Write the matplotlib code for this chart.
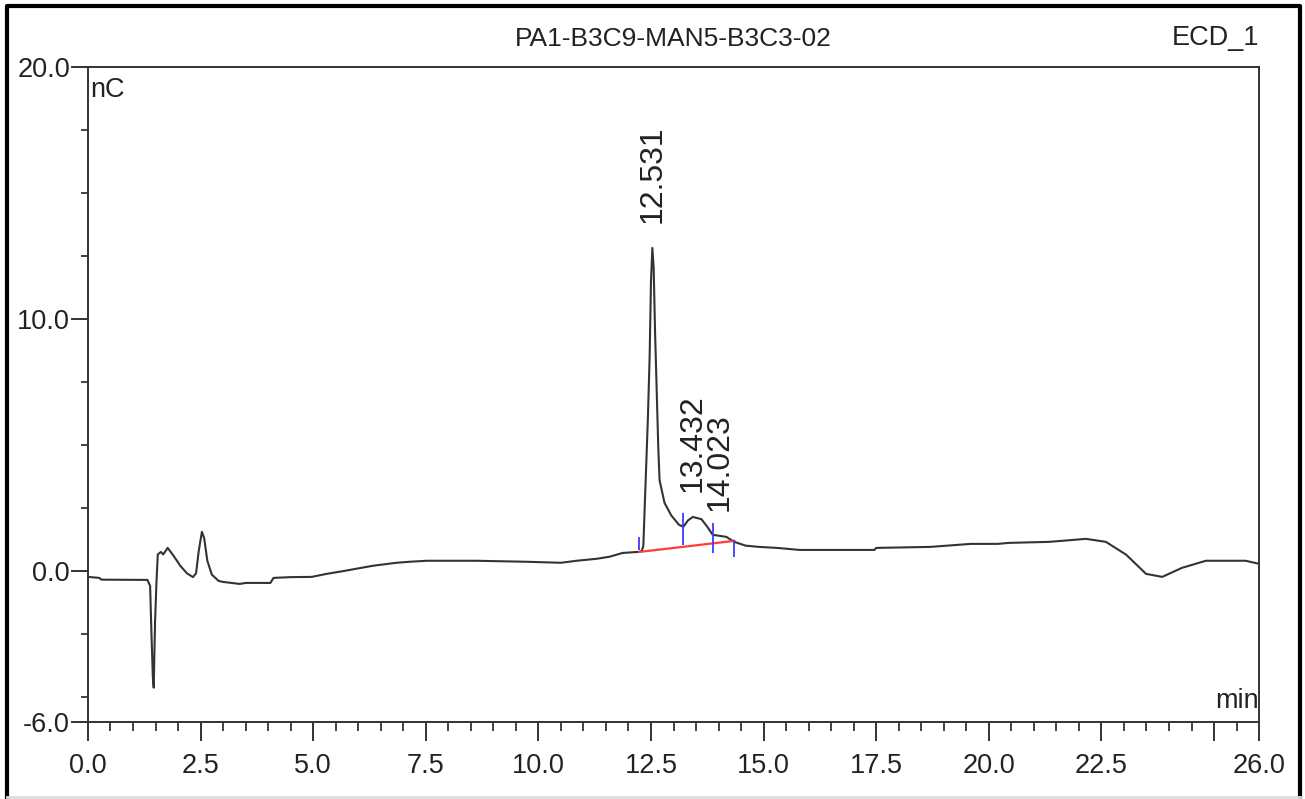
import numpy as np
import matplotlib.pyplot as plt
from matplotlib.lines import Line2D
from matplotlib.ticker import FixedLocator, MultipleLocator

plt.rcParams['font.family'] = ['Liberation Sans', 'DejaVu Sans']

# chromatogram trace (min, nC)
time = [0.0, 0.25, 0.3, 1.32, 1.38, 1.41, 1.44, 1.46, 1.49, 1.52, 1.55, 1.62,
        1.67, 1.77, 1.9, 2.05, 2.2, 2.33, 2.40, 2.46, 2.53, 2.58, 2.65, 2.75,
        2.9, 3.0, 3.37, 3.5, 4.05, 4.12, 4.5, 4.97, 5.3, 5.7, 6.32, 6.85, 7.14,
        7.52, 8.63, 9.74, 10.5, 10.85, 11.3, 11.58, 11.87, 12.2, 12.24, 12.30,
        12.33, 12.38, 12.43, 12.47, 12.50, 12.53, 12.56, 12.59, 12.62, 12.66,
        12.69, 12.80, 12.95, 13.12, 13.22, 13.32, 13.43, 13.62, 13.75, 13.87,
        14.17, 14.35, 14.6, 14.9, 15.3, 15.8, 17.46, 17.5, 18.7, 19.6, 20.2,
        20.45, 21.34, 22.16, 22.6, 23.05, 23.49, 23.85, 24.29, 24.82, 25.7,
        26.0]
signal = [-0.24, -0.28, -0.35, -0.36, -0.6, -2.5, -4.2, -4.64, -2.0, -0.5,
          0.65, 0.75, 0.65, 0.91, 0.6, 0.2, -0.1, -0.25, -0.1, 0.8, 1.55, 1.3,
          0.4, -0.15, -0.4, -0.44, -0.52, -0.48, -0.48, -0.28, -0.25, -0.24,
          -0.12, 0.0, 0.2, 0.32, 0.36, 0.4, 0.4, 0.36, 0.32, 0.4, 0.48, 0.56,
          0.71, 0.75, 0.75, 0.8, 1.0, 3.5, 6.0, 8.5, 11.5, 12.82, 12.0, 9.5,
          7.6, 5.0, 3.6, 2.7, 2.2, 1.83, 1.75, 2.0, 2.14, 2.05, 1.75, 1.43,
          1.35, 1.15, 1.0, 0.95, 0.91, 0.83, 0.83, 0.91, 0.95, 1.07, 1.07,
          1.11, 1.15, 1.27, 1.15, 0.64, -0.12, -0.24, 0.12, 0.4, 0.4, 0.28]

peak_rt = [12.531, 13.432, 14.023]
peak_labels = ['12.531', '13.432', '14.023']

# integration baseline and delimiters
base_t = [12.24, 14.35]
base_y = [0.75, 1.19]
delim_t = [12.24, 13.22, 13.87, 14.35]
delim_lo = [0.83, 1.03, 0.71, 0.56]
delim_hi = [1.35, 2.30, 1.90, 1.23]

title = 'PA1-B3C9-MAN5-B3C3-02'
channel = 'ECD_1'

fig = plt.figure(figsize=(13.05, 7.99), dpi=100)
ax = fig.add_axes([0.0674, 0.0964, 0.8974, 0.8197])

ax.plot(time, signal, color='#333333', lw=1.5, solid_joinstyle='round')
ax.plot(base_t, base_y, color='#ff3b3b', lw=1.6)
ax.vlines(delim_t, delim_lo, delim_hi, color='#3b3bff', lw=1.3)

for rt, lab in zip(peak_rt, peak_labels):
    y0 = np.interp(rt, time, signal) + 1.0
    ax.text(rt, y0, lab, rotation=90, ha='center', va='bottom', fontsize=23,
            color='#222222')

ax.set_xlim(0, 26)
ax.set_ylim(-6, 20)

xt = [0, 2.5, 5, 7.5, 10, 12.5, 15, 17.5, 20, 22.5, 25, 26]
ax.xaxis.set_major_locator(FixedLocator(xt))
ax.set_xticklabels(['%.1f' % v if v != 25 else '' for v in xt])
ax.xaxis.set_minor_locator(MultipleLocator(0.5))
yt = [-6, 0, 10, 20]
ax.yaxis.set_major_locator(FixedLocator(yt))
ax.set_yticklabels(['%.1f' % v for v in yt])
ax.yaxis.set_minor_locator(FixedLocator([-5, -2.5, 2.5, 5, 7.5, 12.5, 15, 17.5]))

ax.tick_params(axis='x', which='major', length=14, width=1.3, pad=8,
               labelsize=19.5, colors='#222222')
ax.tick_params(axis='x', which='minor', length=6.5, width=1.2, colors='#222222')
ax.tick_params(axis='y', which='major', length=12, width=1.3, pad=1,
               labelsize=19.5, colors='#222222')
ax.tick_params(axis='y', which='minor', length=5, width=1.2, colors='#222222')
for sp in ax.spines.values():
    sp.set_color('#333333')
    sp.set_linewidth(1.4)

ax.text(0.002, 0.985, 'nC', transform=ax.transAxes, ha='left', va='top',
        fontsize=19.5, color='#222222')
ax.text(1.0, 0.012, 'min', transform=ax.transAxes, ha='right', va='bottom',
        fontsize=19.5, color='#222222')
ax.text(0.5, 1.025, title, transform=ax.transAxes, ha='center', va='bottom',
        fontsize=19, color='#222222')
ax.text(1.0, 1.025, channel, transform=ax.transAxes, ha='right', va='bottom',
        fontsize=19.5, color='#222222')

# outer frame of the report
fig.add_artist(Line2D([0.005, 0.005, 0.996, 0.996], [0.003, 0.993, 0.993, 0.003],
                      transform=fig.transFigure, color='black', lw=3))
fig.add_artist(Line2D([0.005, 0.996], [0.003, 0.003], transform=fig.transFigure,
                      color='#dddddd', lw=2))

fig.savefig('out.png', dpi=100)
